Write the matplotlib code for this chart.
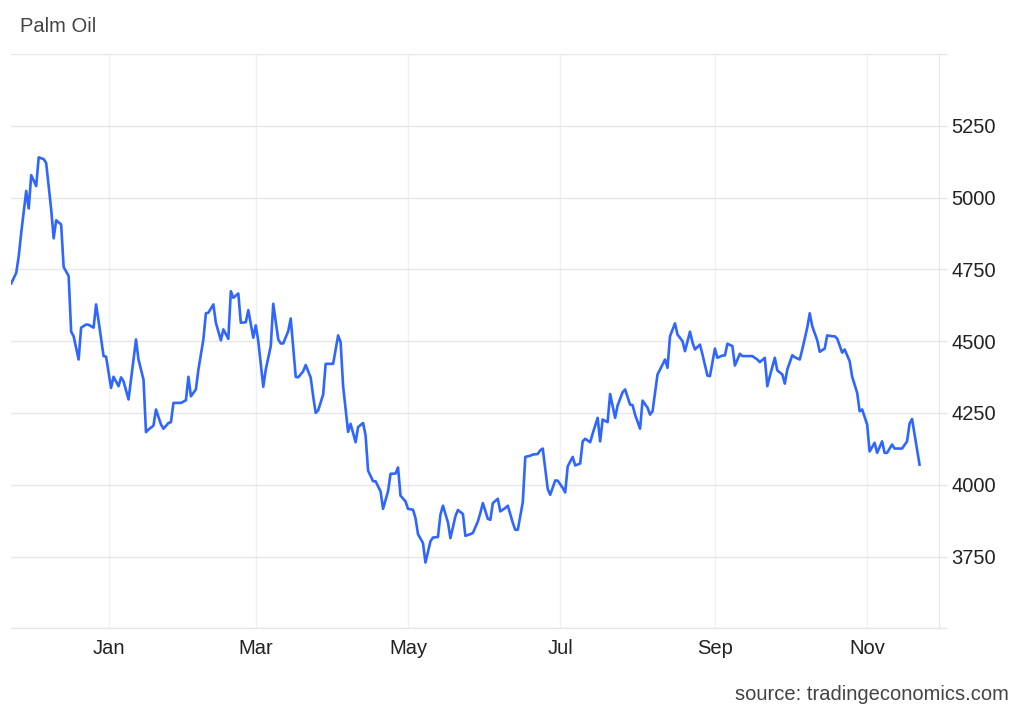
import pandas as pd
import matplotlib.pyplot as plt

plt.rcParams['font.family'] = ['Liberation Sans', 'DejaVu Sans']

# palm oil closes, dates as days counted from 2025-01-01
day_offsets = [
    -39, -37, -36, -35, -33, -32, -31, -29, -28, -26, -25, -23, -22, -21, -19, -18,
    -16, -15, -14, -12, -11, -9, -8, -6, -5, -4, -2, -1, 1, 2, 4, 5, 6, 8, 11, 12,
    14, 15, 16, 18, 19, 21, 22, 24, 25, 26, 29, 31, 32, 33, 35, 36, 38, 39, 40, 42,
    43, 45, 46, 48, 49, 50, 52, 53, 55, 56, 58, 59, 60, 62, 63, 65, 66, 68, 69, 70,
    72, 73, 75, 76, 78, 79, 81, 82, 83, 84, 86, 87, 90, 92, 93, 94, 96, 97, 99, 100,
    102, 103, 104, 106, 107, 109, 110, 112, 113, 115, 116, 117, 119, 120, 122, 123,
    124, 126, 127, 129, 130, 132, 133, 134, 136, 137, 139, 140, 142, 143, 145, 146,
    148, 149, 150, 152, 153, 154, 156, 157, 159, 160, 162, 163, 164, 166, 167, 169,
    170, 172, 173, 174, 176, 177, 179, 180, 182, 183, 184, 186, 187, 189, 190, 191,
    193, 194, 196, 197, 198, 200, 201, 203, 204, 206, 207, 209, 210, 211, 213, 214,
    216, 217, 218, 220, 221, 223, 224, 225, 227, 228, 230, 231, 233, 234, 235, 237,
    238, 240, 241, 243, 244, 246, 247, 248, 250, 251, 253, 254, 256, 258, 260, 261,
    263, 264, 265, 267, 268, 270, 271, 272, 274, 275, 277, 278, 280, 281, 282, 284,
    285, 287, 288, 290, 291, 292, 294, 295, 297, 298, 300, 301, 302, 304, 305, 307,
    308, 310, 311, 312, 314, 315, 318, 320, 321, 322, 325,
]
prices = [
    4701, 4738, 4796, 4878, 5023, 4962, 5078, 5040, 5140, 5134, 5120, 4959, 4858, 4921, 4906, 4758,
    4727, 4533, 4517, 4436, 4547, 4558, 4557, 4547, 4628, 4570, 4448, 4446, 4337, 4376, 4343, 4374, 4360, 4297, 4506, 4436,
    4366, 4183, 4192, 4206, 4262, 4210, 4195, 4215, 4218, 4285, 4285, 4294, 4376, 4308, 4332, 4401, 4506, 4597, 4599, 4628,
    4564, 4503, 4541, 4508, 4674, 4651, 4666, 4564, 4566, 4608, 4512, 4555, 4500, 4341, 4401, 4483, 4630, 4506, 4492, 4492,
    4535, 4579, 4376, 4374, 4395, 4417, 4373, 4308, 4250, 4259, 4314, 4421, 4421, 4520, 4496, 4343, 4184, 4212, 4148, 4201,
    4215, 4172, 4049, 4012, 4012, 3977, 3916, 3977, 4038, 4039, 4060, 3962, 3942, 3916, 3913, 3884,
    3828, 3797, 3729, 3803, 3816, 3818, 3896, 3927, 3869, 3814, 3890, 3912, 3898, 3822, 3828, 3832,
    3872, 3902, 3936, 3881, 3878, 3936, 3951, 3907, 3919, 3927, 3867, 3843, 3843, 3939, 4097, 4101,
    4105, 4107, 4120, 4126, 3985, 3965, 4015, 4014, 3989, 3973, 4064, 4097, 4067, 4074, 4151, 4160,
    4148, 4178, 4233, 4151, 4227, 4218, 4316, 4233, 4276, 4322, 4332, 4279, 4277, 4244, 4195, 4293,
    4268, 4244, 4256, 4384, 4401, 4436, 4407, 4517, 4562, 4523, 4500, 4465, 4533, 4496, 4471, 4488,
    4454, 4380, 4378, 4474, 4442, 4450, 4450, 4491, 4483, 4415, 4456, 4448, 4448, 4448, 4436, 4427,
    4442, 4343, 4378, 4442, 4398, 4384, 4352, 4401, 4451, 4444, 4436, 4471, 4547, 4597, 4552, 4503,
    4463, 4474, 4520, 4517, 4517, 4509, 4460, 4471, 4430, 4376, 4320, 4256, 4262, 4210, 4116, 4146,
    4111, 4151, 4111, 4111, 4140, 4126, 4126, 4151, 4213, 4229, 4070,
]

month_ticks = ['2025-01-01', '2025-03-01', '2025-05-01', '2025-07-01', '2025-09-01', '2025-11-01']
month_labels = ['Jan', 'Mar', 'May', 'Jul', 'Sep', 'Nov']
y_ticks = [3500, 3750, 4000, 4250, 4500, 4750, 5000, 5250, 5500]
y_labels = ['', '3750', '4000', '4250', '4500', '4750', '5000', '5250', '']

base = pd.Timestamp('2025-01-01')
dates = base + pd.to_timedelta(day_offsets, unit='D')

W, H = 1024, 710
fig = plt.figure(figsize=(W / 100, H / 100), dpi=100)
ax = fig.add_axes([11 / W, 1 - 628.3 / H, (939 - 11) / W, (628.3 - 54) / H])

ax.plot(dates, prices, color='#2f66ff', lw=1.9, solid_joinstyle='round', zorder=3)

ax.set_xlim(base + pd.Timedelta(days=-39.1), base + pd.Timedelta(days=332.8))
ax.set_ylim(3500, 5500)

ax.set_xticks(pd.to_datetime(month_ticks), month_labels)
ax.set_yticks(y_ticks, y_labels)
ax.yaxis.tick_right()

ax.grid(axis='y', color='#e6e6e6', lw=1)
ax.grid(axis='x', color='#edf1f5', lw=1)
ax.set_axisbelow(True)

for side in ['left', 'top']:
    ax.spines[side].set_visible(False)
ax.spines['right'].set_color('#e6e6e6')
ax.spines['bottom'].set_color('#e6e6e6')

ax.tick_params(axis='x', length=0, pad=8, labelsize=14.5, labelcolor='#222222')
ax.tick_params(axis='y', right=True, length=6, width=1, color='#e6e6e6',
               pad=3, labelsize=14.5, labelcolor='#222222')

fig.text(20 / W, 1 - 27 / H, 'Palm Oil', fontsize=14.5, color='#444444', va='center', ha='left')
fig.text(1009 / W, 1 - 695 / H, 'source: tradingeconomics.com', fontsize=14.5,
         color='#444444', va='center', ha='right')

fig.savefig('out.png', dpi=100)
